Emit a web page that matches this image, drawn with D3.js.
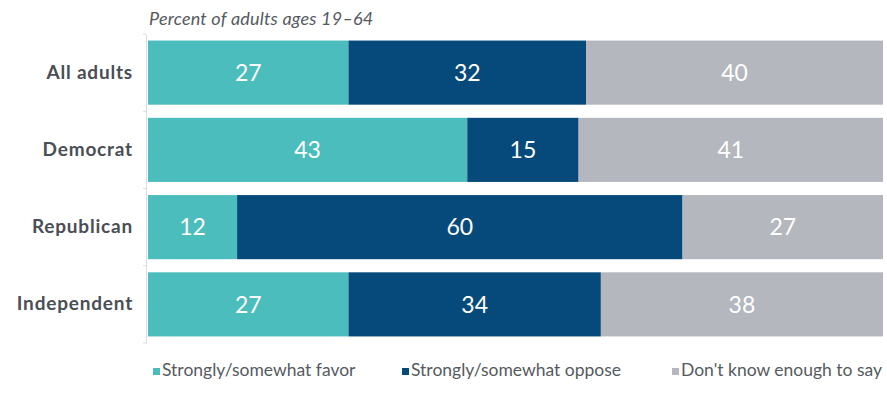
<!DOCTYPE html>
<html>
<head>
<meta charset="utf-8">
<script src="https://cdn.jsdelivr.net/npm/d3@7"></script>
<style>
  body { margin: 0; background: #fff; }
  svg text { font-family: Lato, "Open Sans", sans-serif; }
</style>
</head>
<body>
<div id="chart"></div>
<script>
// groups shown on the y axis
const groups = ["All adults", "Democrat", "Republican", "Independent"];
const seriesNames = ["Strongly/somewhat favor", "Strongly/somewhat oppose", "Don't know enough to say"];
const favor = [27, 43, 12, 27];
const oppose = [32, 15, 60, 34];
const dontKnow = [40, 41, 27, 38];
const colors = ["#4bbdbc", "#064a7b", "#b4b7bd"];

const width = 887, height = 405;
const margin = {top: 34, right: 4, bottom: 62, left: 148};

let svg = d3.select("#chart").append("svg")
    .attr("width", width)
    .attr("height", height);

let rows = groups.map((g, i) => {
    let vals = [favor[i], oppose[i], dontKnow[i]];
    let total = d3.sum(vals);
    let acc = 0;
    let segs = vals.map((v, k) => {
        let s = {group: g, key: k, value: v, x0: acc / total, x1: (acc + v) / total};
        acc += v;
        return s;
    });
    return {group: g, segs: segs};
});

let x = d3.scaleLinear()
    .domain([0, 1])
    .range([margin.left, width - margin.right]);

let y = d3.scaleBand()
    .domain(groups)
    .range([margin.top, height - margin.bottom])
    .paddingInner(0.17)
    .paddingOuter(0.085);

// subtitle
svg.append("text")
    .attr("x", margin.left + 1)
    .attr("y", 25)
    .attr("font-size", 18)
    .attr("font-style", "italic")
    .attr("letter-spacing", "0.2px")
    .attr("fill", "#555a60")
    .text("Percent of adults ages 19\u201364");

// y axis
let yAxis = svg.append("g")
    .attr("transform", `translate(${margin.left - 2},0)`)
    .call(d3.axisLeft(y).tickSize(0).tickPadding(13));
yAxis.select(".domain").attr("stroke", "#dcdcdc");
yAxis.selectAll("text")
    .attr("font-size", 19)
    .attr("font-weight", "bold")
    .attr("letter-spacing", "0.8px")
    .attr("fill", "#4a4e55");

// band boundary ticks
let bounds = d3.range(groups.length + 1).map(i => margin.top + i * y.step());
yAxis.selectAll(".bound")
    .data(bounds)
    .enter()
    .append("line")
    .attr("class", "bound")
    .attr("x1", -3).attr("x2", 0)
    .attr("y1", d => d).attr("y2", d => d)
    .attr("stroke", "#dcdcdc");

// bars
let rowG = svg.selectAll(".row")
    .data(rows)
    .enter()
    .append("g")
    .attr("class", "row");

rowG.selectAll("rect")
    .data(d => d.segs)
    .enter()
    .append("rect")
    .attr("x", d => x(d.x0))
    .attr("width", d => x(d.x1) - x(d.x0))
    .attr("y", d => y(d.group))
    .attr("height", y.bandwidth())
    .attr("fill", d => colors[d.key]);

rowG.selectAll(".val")
    .data(d => d.segs)
    .enter()
    .append("text")
    .attr("class", "val")
    .attr("x", d => (x(d.x0) + x(d.x1)) / 2)
    .attr("y", d => y(d.group) + y.bandwidth() / 2)
    .attr("dy", "0.36em")
    .attr("text-anchor", "middle")
    .attr("font-size", 23)
    .attr("fill", "#fff")
    .text(d => d.value);

// legend
const legendX = [153, 402, 672];
let leg = svg.selectAll(".legend")
    .data(seriesNames)
    .enter()
    .append("g")
    .attr("class", "legend")
    .attr("transform", (d, i) => `translate(${legendX[i]}, 376)`);

leg.append("rect")
    .attr("x", 0)
    .attr("y", -8)
    .attr("width", 7)
    .attr("height", 7)
    .attr("fill", (d, i) => colors[i]);

leg.append("text")
    .attr("x", 9)
    .attr("y", 0)
    .attr("font-size", 17.5)
    .attr("fill", "#555a60")
    .text(d => d);
</script>
</body>
</html>
